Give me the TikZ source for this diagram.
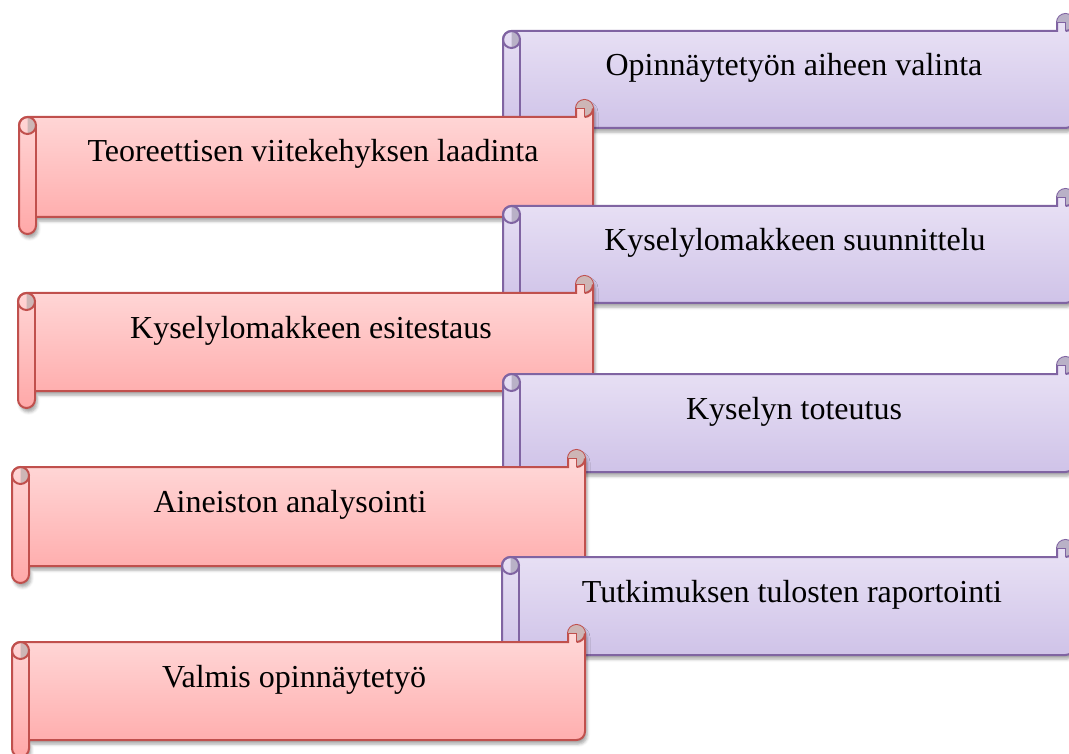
\documentclass[tikz,border=0pt]{standalone}
\usepackage{fontspec}
\setmainfont{Liberation Serif}
\usetikzlibrary{shadows.blur}

\definecolor{redline}{HTML}{C0504D}
\definecolor{redtop}{HTML}{FFDCDC}
\definecolor{redbot}{HTML}{FFA8A8}
\definecolor{redcurl}{HTML}{CDB6B6}
\definecolor{purpleline}{HTML}{8064A2}
\definecolor{purpletop}{HTML}{EBE4F6}
\definecolor{purplebot}{HTML}{CBBEE6}
\definecolor{purplecurl}{HTML}{B9B1C7}

% #1 left, #2 right, #3 top, #4 bottom (pixels), #5 colour, #6 name, #7 text x, #8 text
\newcommand{\scrollshape}[8]{
  \draw[#5line, line width=2, top color=#5top, bottom color=#5bot,
        blur shadow={shadow xshift=2pt, shadow yshift=-4pt, shadow blur radius=3pt, shadow opacity=35}]
    (#1,-#3-8.5) arc[start angle=180, end angle=90, radius=8.5]
    -- (#2-17,-#3) -- (#2-17,-#3+8.5) arc[start angle=180, end angle=0, radius=8.5]
    -- (#2,-#4+8.5) arc[start angle=0, end angle=-90, radius=8.5]
    -- (#1+17,-#4) -- (#1+17,-#4-8.5) arc[start angle=0, end angle=-180, radius=8.5]
    -- cycle;
  % left roll
  \draw[#5line, line width=2] (#1+17,-#3-8.5) -- (#1+17,-#4);
  \fill[#5curl] (#1+8.5,-#3) arc[start angle=90, end angle=-90, radius=8.5] -- cycle;
  \draw[#5line, line width=2] (#1+8.5,-#3-8.5) circle[radius=8.5];
  % right curl
  \fill[#5curl] (#2-8.5,-#3+8.5) -- (#2-8.5,-#3) arc[start angle=-90, end angle=180, radius=8.5] -- cycle;
  \draw[#5line, line width=2] (#2-8.5,-#3) arc[start angle=-90, end angle=0, radius=8.5];
  \draw[#5line, line width=1.5] (#2-8.5,-#3) -- (#2-8.5,-#3+8.5) -- (#2-17,-#3+8.5);
  \node[scrolltext] (#6) at (#7,-#3-45) {#8};
}

\begin{document}
\begin{tikzpicture}[x=1pt, y=1pt,
    scrolltext/.style={anchor=base, inner sep=0pt, font=\fontsize{32}{38}\selectfont}]
  \clip (0,0) rectangle (1069,-754);
  \scrollshape{503}{1074}{31}{128}{purple}{aihe}{794}{Opinnäytetyön aiheen valinta}
  \scrollshape{19}{593}{117}{217}{red}{teoria}{313}{Teoreettisen viitekehyksen laadinta}
  \scrollshape{503}{1074}{206}{303}{purple}{suunnittelu}{795}{Kyselylomakkeen suunnittelu}
  \scrollshape{18}{593}{293}{391}{red}{esitestaus}{311}{Kyselylomakkeen esitestaus}
  \scrollshape{503}{1074}{374}{472}{purple}{toteutus}{794}{Kyselyn toteutus}
  \scrollshape{12}{585}{467}{566}{red}{analyysi}{290}{Aineiston analysointi}
  \scrollshape{502}{1074}{557}{655}{purple}{raportointi}{792}{Tutkimuksen tulosten raportointi}
  \scrollshape{12}{585}{642}{740}{red}{valmis}{294}{Valmis opinnäytetyö}
\end{tikzpicture}
\end{document}
